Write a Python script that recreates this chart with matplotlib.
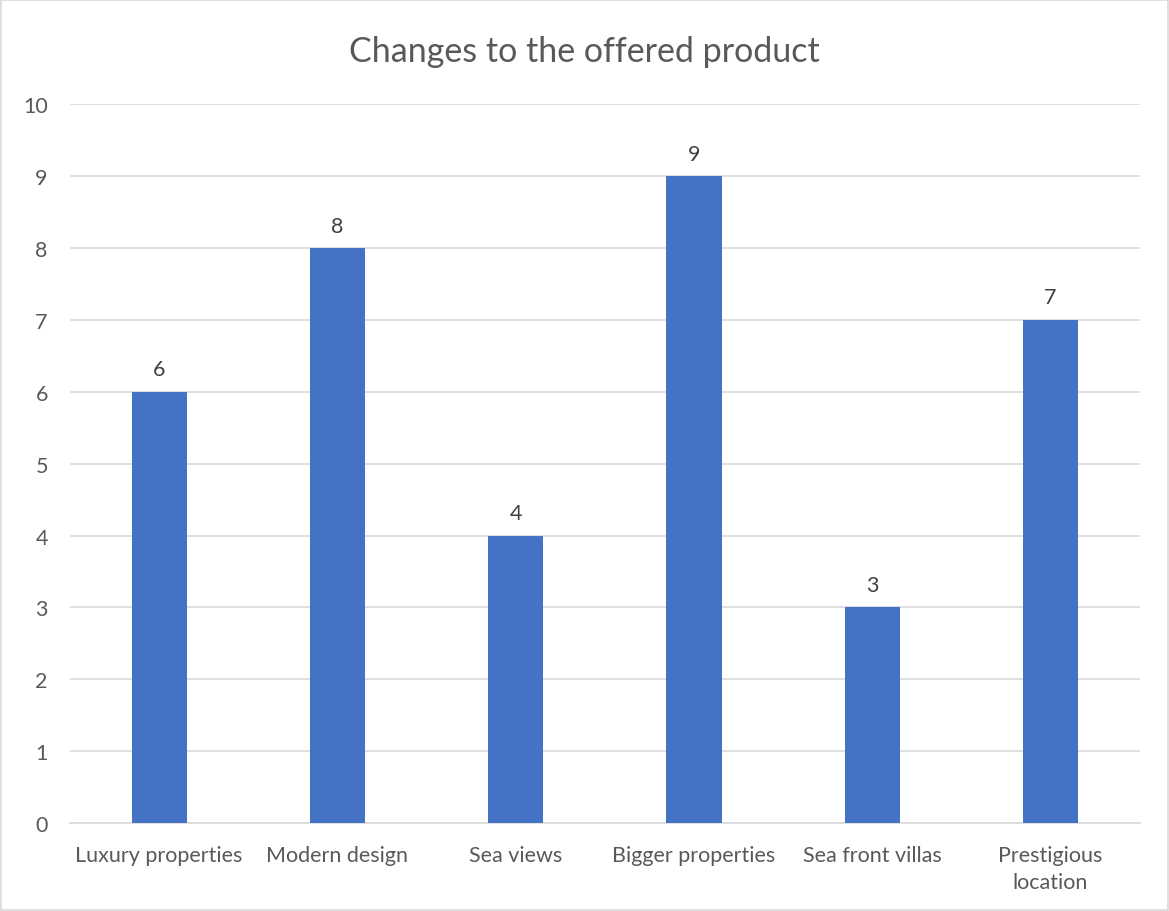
import matplotlib.pyplot as plt
from matplotlib.patches import Rectangle

# -------------------------
# Daten
# -------------------------
categories = ["Luxury properties", "Modern design", "Sea views",
              "Bigger properties", "Sea front villas", "Prestigious\nlocation"]
values = [6, 8, 4, 9, 3, 7]
y_ticks = list(range(0, 11))

BAR_COLOR = "#4472C4"
TEXT_COLOR = "#595959"
GRID_COLOR = "#D9D9D9"

plt.rcParams["font.family"] = ["Lato", "DejaVu Sans"]

fig = plt.figure(figsize=(11.69, 9.12), dpi=100, facecolor="white")
ax = fig.add_axes([0.0599, 0.0965, 0.915, 0.788])

x = range(len(categories))
bars = ax.bar(x, values, width=0.31, color=BAR_COLOR, zorder=3)

# Werte über den Balken
for xi, v in zip(x, values):
    ax.annotate(str(v), (xi, v), xytext=(0, 9), textcoords="offset points",
                ha="center", va="bottom", fontsize=15.5, color="#404040")

ax.set_xlim(-0.5, len(categories) - 0.5)
ax.set_ylim(0, 10)
ax.set_yticks(y_ticks)
ax.set_xticks(list(x))
ax.set_xticklabels(categories, fontsize=15.5, color=TEXT_COLOR, linespacing=1.45)
ax.tick_params(axis="y", labelsize=15.5, labelcolor=TEXT_COLOR, length=0, pad=16)
ax.tick_params(axis="x", length=0, pad=16)

ax.yaxis.grid(True, color=GRID_COLOR, linewidth=1.2, zorder=0)
for side in ["top", "right", "left"]:
    ax.spines[side].set_visible(False)
ax.spines["bottom"].set_color(GRID_COLOR)
ax.spines["bottom"].set_linewidth(1.2)

fig.text(0.5, 0.943, "Changes to the offered product", ha="center", va="center",
         fontsize=24.5, color=TEXT_COLOR)

# Rahmen um die Grafik
fig.patches.append(Rectangle((0.001, 0.001), 0.998, 0.998, transform=fig.transFigure,
                             fill=False, edgecolor=GRID_COLOR, linewidth=1.2))

plt.savefig("out.png", dpi=100)
